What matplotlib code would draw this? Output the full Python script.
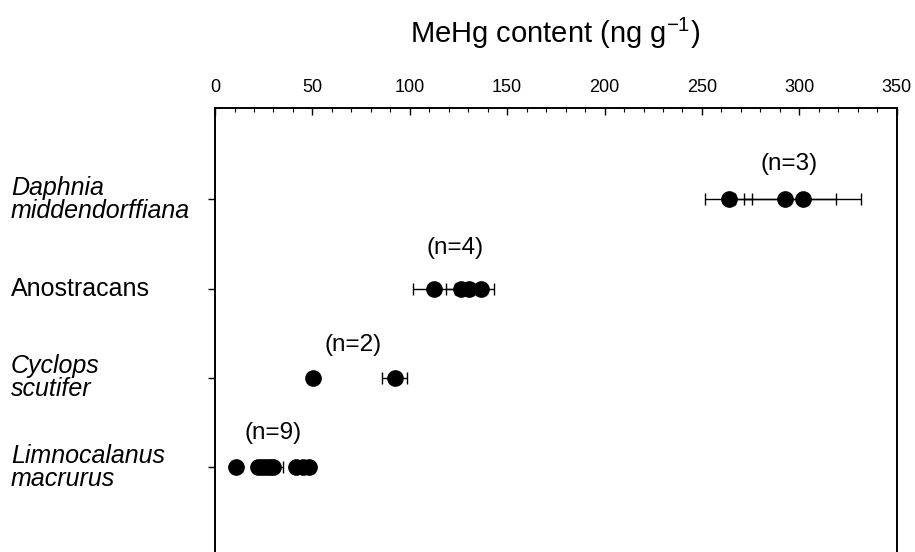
import matplotlib
matplotlib.use("Agg")
import matplotlib.pyplot as plt
import matplotlib.transforms as mtransforms
from matplotlib.ticker import MultipleLocator

plt.rcParams['font.family'] = ['Liberation Sans', 'DejaVu Sans']

# taxa, top to bottom
taxa = ['Daphnia\nmiddendorffiana', 'Anostracans', 'Cyclops\nscutifer', 'Limnocalanus\nmacrurus']
italic = [True, False, True, True]
n_labels = ['(n=3)', '(n=4)', '(n=2)', '(n=9)']

# MeHg values (ng g-1) and error bars
daphnia = [263.8, 292.9, 301.8]
daphnia_err = [12.0, 25.8, 30.0]
anostracans = [112.4, 126.2, 130.3, 136.5]
anostracans_err = [10.7, 7.8, 0.0, 6.8]
cyclops = [50.3, 92.2]
cyclops_err = [0.0, 6.6]
limno = [11.0, 22.0, 24.0, 26.0, 28.0, 30.0, 41.5, 45.0, 48.0]
limno_err = [0, 0, 0, 0, 0, 4.7, 0, 0, 0]

values = [daphnia, anostracans, cyclops, limno]
errors = [daphnia_err, anostracans_err, cyclops_err, limno_err]
ypos = [4, 3, 2, 1]
n_pos = [(294.5, 4.40), (123.5, 3.45), (71.0, 2.37), (30.0, 1.38)]

fig = plt.figure(figsize=(9.15, 5.52), dpi=100)
ax = fig.add_axes([0.235, 0.0, 0.745, 0.804])

for vals, errs, y in zip(values, errors, ypos):
    ax.errorbar(vals, [y] * len(vals), xerr=errs, fmt='o', color='black',
                markersize=11, ecolor='black', elinewidth=1, capsize=4.5,
                capthick=1, zorder=3)

for lab, (x, y) in zip(n_labels, n_pos):
    ax.text(x, y, lab, ha='center', va='center', fontsize=17.5)

ax.set_xlim(0, 350)
ax.set_ylim(0.05, 5.02)
ax.xaxis.set_major_locator(MultipleLocator(50))
ax.xaxis.set_minor_locator(MultipleLocator(10))
ax.xaxis.tick_top()
ax.tick_params(axis='x', which='major', direction='in', length=5, width=1,
               labelsize=13, pad=9)
ax.tick_params(axis='x', which='minor', direction='in', length=3, width=0.8)
ax.set_yticks(ypos)
ax.set_yticklabels([])
ax.tick_params(axis='y', direction='out', length=5, width=1)
ax.tick_params(axis='y', which='minor', left=False)

ax.spines['bottom'].set_visible(False)
for s in ['top', 'left', 'right']:
    ax.spines[s].set_linewidth(1.4)

trans = mtransforms.blended_transform_factory(fig.transFigure, ax.transData)
for lab, it, y in zip(taxa, italic, ypos):
    ax.text(0.012, y, lab, transform=trans, ha='left', va='center',
            fontsize=18, style='italic' if it else 'normal', linespacing=0.95)

fig.text(0.607, 0.94, 'MeHg content (ng g$^{\\mathregular{-1}}$)', ha='center',
         va='center', fontsize=21)

fig.savefig('out.png', dpi=100)
